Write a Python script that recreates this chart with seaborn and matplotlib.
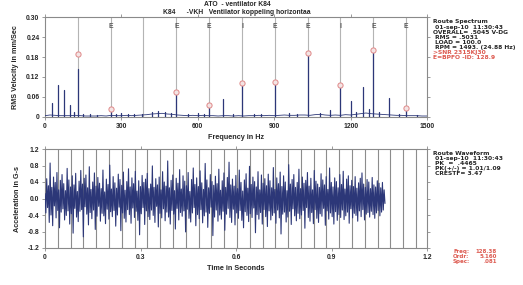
import numpy as np
import pandas as pd
import matplotlib
matplotlib.use("Agg")
import matplotlib.pyplot as plt
import seaborn as sns

# ---------------- data ----------------
# spectrum noise floor (every 20 Hz)
floor_freq = list(range(0, 1501, 20))
floor_amp = [0.004, 0.006, 0.005, 0.004, 0.004, 0.004, 0.005, 0.004, 0.003, 0.003,
             0.003, 0.004, 0.003, 0.005, 0.004, 0.004, 0.005, 0.004, 0.005, 0.006,
             0.007, 0.009, 0.010, 0.011, 0.009, 0.008, 0.006, 0.005, 0.004, 0.005,
             0.004, 0.005, 0.004, 0.004, 0.003, 0.004, 0.004, 0.003, 0.004, 0.003,
             0.004, 0.004, 0.005, 0.004, 0.005, 0.004, 0.005, 0.006, 0.005, 0.005,
             0.006, 0.006, 0.005, 0.007, 0.008, 0.006, 0.005, 0.006, 0.005, 0.007,
             0.006, 0.008, 0.010, 0.012, 0.010, 0.009, 0.008, 0.007, 0.006, 0.005,
             0.005, 0.004, 0.004, 0.004, 0.003, 0.003]
# spectral peaks
peak_freq = [27, 51, 75, 100, 114, 130, 150, 175, 205, 258, 280, 300, 325, 350, 380,
             420, 445, 470, 495, 516, 560, 600, 625, 645, 699, 740, 773, 820, 850,
             902, 960, 990, 1031, 1080, 1119, 1160, 1201, 1221, 1248, 1272, 1289,
             1310, 1351, 1390, 1418, 1460]
peak_amp = [0.043, 0.096, 0.080, 0.037, 0.015, 0.145, 0.010, 0.008, 0.007, 0.018,
            0.008, 0.012, 0.009, 0.010, 0.009, 0.015, 0.018, 0.015, 0.012, 0.074,
            0.010, 0.012, 0.009, 0.035, 0.053, 0.008, 0.105, 0.008, 0.010, 0.105,
            0.012, 0.009, 0.190, 0.012, 0.022, 0.096, 0.047, 0.015, 0.090, 0.025,
            0.200, 0.015, 0.056, 0.008, 0.028, 0.007]
# fault-frequency markers (orders of E=BPFO 128.9 Hz)
bpfo = 128.9
marker_order = [1, 2, 3, 4, 5, 6, 7, 8, 9, 10, 11]
marker_label = ["", "E", "", "E", "E", "I", "E", "E", "I", "E", "E"]
marker_amp = [0.190, 0.025, None, 0.074, 0.037, 0.102, 0.105, 0.192, 0.096, 0.200, 0.028]

spec_xticks = [0, 300, 600, 900, 1200, 1500]
spec_yticks = [0, 0.06, 0.12, 0.18, 0.24, 0.30]
spec_yticklabels = ["0", "0.06", "0.12", "0.18", "0.24", "0.30"]

# waveform samples (G-s), 0 .. 1.068 s
wave = [
 0.12, -0.35, 0.48, -0.22, 0.31, -0.58, 0.86, -0.40, 0.27, -0.66, 0.52, -0.18, 0.39, -0.47, 0.63, -0.29, 0.21, -0.71, 0.44, -0.33,
 0.58, -0.25, 0.36, -0.52, 0.19, -0.41, 0.73, -0.30, 0.45, -0.62, 0.28, -0.37, 0.55, -0.84, 0.33, -0.24, 0.61, -0.45, 0.17, -0.56,
 0.42, -0.31, 0.68, -0.27, 0.35, -0.93, 0.49, -0.20, 0.57, -0.38, 0.26, -0.64, 0.77, -0.34, 0.22, -0.49, 0.40, -0.28, 0.62, -0.75,
 0.30, -0.43, 0.51, -0.19, 0.37, -0.55, 0.24, -0.36, 0.69, -0.42, 0.16, -0.61, 0.47, -0.26, 0.34, -0.50, 0.81, -0.32, 0.23, -0.44,
 0.53, -0.29, 0.38, -0.67, 0.25, -0.40, 0.59, -0.21, 0.46, -0.78, 0.32, -0.35, 0.64, -0.48, 0.20, -0.57, 0.41, -0.27, 0.72, -0.39,
 0.28, -0.60, 0.50, -0.23, 0.36, -0.46, 0.66, -0.31, 0.18, -0.53, 0.43, -0.88, 0.29, -0.37, 0.56, -0.22, 0.39, -0.63, 0.47, -0.30,
 0.61, -0.44, 0.24, -0.51, 0.35, -0.28, 0.79, -0.41, 0.27, -0.58, 0.48, -0.19, 0.33, -0.69, 0.52, -0.36, 0.21, -0.47, 0.65, -0.25,
 0.40, -0.54, 0.30, -0.33, 0.91, -0.45, 0.26, -0.62, 0.44, -0.29, 0.57, -0.38, 0.19, -0.74, 0.49, -0.24, 0.37, -0.52, 0.70, -0.34,
 0.23, -0.43, 0.55, -0.30, 0.42, -0.81, 0.31, -0.26, 0.63, -0.48, 0.17, -0.57, 0.46, -0.35, 0.74, -0.22, 0.34, -0.66, 0.50, -0.39,
 0.29, -0.49, 0.67, -0.27, 0.38, -0.59, 0.22, -0.42, 0.85, -0.33, 0.45, -0.70, 0.26, -0.36, 0.58, -0.21, 0.41, -0.90, 0.32, -0.45,
 0.54, -0.28, 0.36, -0.55, 0.71, -0.40, 0.20, -0.50, 0.43, -0.31, 0.62, -0.77, 0.27, -0.38, 0.51, -0.24, 0.88, -0.46, 0.33, -0.58,
 0.47, -0.26, 0.30, -0.64, 0.56, -0.35, 0.24, -0.48, 0.69, -0.29, 0.39, -0.53, 0.18, -0.71, 0.45, -0.32, 0.60, -0.41, 0.25, -0.56,
 0.78, -0.37, 0.34, -0.46, 0.52, -0.23, 0.41, -0.83, 0.28, -0.39, 0.65, -0.50, 0.21, -0.34, 0.57, -0.62, 0.37, -0.27, 0.48, -0.44,
 0.31, -0.68, 0.59, -0.30, 0.43, -0.52, 0.26, -0.41, 0.75, -0.35, 0.22, -0.60, 0.50, -0.28, 0.36, -0.47, 0.64, -0.86, 0.29, -0.38,
 0.55, -0.33, 0.40, -0.57, 0.19, -0.45, 0.82, -0.31, 0.35, -0.63, 0.46, -0.25, 0.58, -0.42, 0.27, -0.54, 0.39, -0.36, 0.71, -0.49,
 0.24, -0.40, 0.52, -0.29, 0.37, -0.72, 0.44, -0.22, 0.63, -0.46, 0.30, -0.55, 0.49, -0.34, 0.21, -0.61, 0.68, -0.27, 0.42, -0.48,
 0.35, -0.58, 0.27, -0.37, 0.60, -0.43, 0.45, -0.24, 0.33, -0.65, 0.53, -0.30, 0.22, -0.50, 0.74, -0.35, 0.39, -0.44, 0.28, -0.62,
 0.50, -0.32, 0.41, -0.53, 0.26, -0.39, 0.58, -0.46, 0.34, -0.28, 0.66, -0.51, 0.23, -0.42, 0.47, -0.33, 0.55, -0.60, 0.31, -0.25,
 0.44, -0.47, 0.29, -0.36, 0.53, -0.41, 0.25, -0.55, 0.38, -0.30, 0.49, -0.44, 0.62, -0.27, 0.35, -0.52, 0.27, -0.38, 0.46, -0.34,
 0.40, -0.45, 0.24, -0.31, 0.51, -0.39, 0.33, -0.48, 0.28, -0.35, 0.43, -0.29, 0.37, -0.42, 0.26, -0.33, 0.39, -0.28, 0.21, -0.12,
]
wave_duration = 1.068
shaft_hz = 24.88
wave_xticks = [0, 0.3, 0.6, 0.9, 1.2]
wave_xticklabels = ["0", "0.3", "0.6", "0.9", "1.2"]
wave_yticks = [-1.2, -0.8, -0.4, 0.0, 0.4, 0.8, 1.2]
wave_yticklabels = ["-1.2", "-0.8", "-0.4", "0.0", "0.4", "0.8", "1.2"]

spec_info = ["Route Spectrum", " 01-sep-10  11:30:43", "OVERALL= .5045 V-DG", " RMS = .5031",
             " LOAD = 100.0", " RPM = 1493. (24.88 Hz)"]
spec_info_red = [">SNR 2315KJ30", "E=BPFO -ID: 128.9"]
wave_info = ["Route Waveform", " 01-sep-10  11:30:43", " PK  =  .4465", " PK(+/-) = 1.01/1.09", " CRESTF= 3.47"]
cursor_names = ["Freq:", "Ordr:", "Spec:"]
cursor_vals = ["128.38", "5.160", ".081"]

# ---------------- style ----------------
sns.set_theme(style="white")
plt.rcParams["font.family"] = ["Liberation Sans", "DejaVu Sans"]
plt.rcParams["font.weight"] = "bold"
FS = 4.9
W, H = 523, 285
NAVY = "#2c3778"
RED = "#dd5a50"

fig = plt.figure(figsize=(W / 100, H / 100), dpi=100)
fig.patch.set_facecolor("white")


def fx(x):
    return x / W


def fy(y):
    return 1 - y / H


ax1 = fig.add_axes([fx(45), fy(117), fx(382), 100 / H])
ax2 = fig.add_axes([fx(45), fy(248), fx(382), 99 / H])

# ---------------- spectrum ----------------
for o in marker_order:
    ax1.axvline(o * bpfo, color="#b4b4b4", lw=0.8, zorder=1)

sns.lineplot(x=floor_freq, y=floor_amp, ax=ax1, color=NAVY, lw=0.6,
             estimator=None, sort=False, zorder=3)
rows = []
for i, (f, a) in enumerate(zip(peak_freq, peak_amp)):
    rows.append({"f": f, "a": 0.0, "u": i})
    rows.append({"f": f, "a": a, "u": i})
pk = pd.DataFrame(rows)
sns.lineplot(data=pk, x="f", y="a", units="u", estimator=None, ax=ax1,
             color=NAVY, lw=0.9, sort=False, zorder=3)

mk = pd.DataFrame({"f": [o * bpfo for o, a in zip(marker_order, marker_amp) if a is not None],
                   "a": [a for a in marker_amp if a is not None]})
sns.scatterplot(data=mk, x="f", y="a", ax=ax1, s=14, facecolor="#f3e4e4",
                edgecolor="#e08888", linewidth=0.7, zorder=4)
for o, lab in zip(marker_order, marker_label):
    if lab:
        ax1.text(o * bpfo, 0.27, lab, ha="center", va="center", fontsize=FS,
                 color="#555555", zorder=5)

ax1.set_xlim(0, 1500)
ax1.set_ylim(0, 0.30)
ax1.set_xticks(spec_xticks)
ax1.set_xticklabels([str(t) for t in spec_xticks])
ax1.set_yticks(spec_yticks)
ax1.set_yticklabels(spec_yticklabels)
ax1.set_xlabel("Frequency in Hz", fontsize=FS + 0.3, labelpad=3, fontweight="bold")
ax1.set_ylabel("RMS Velocity in mm/Sec", fontsize=FS + 0.3, labelpad=5, fontweight="bold")

# ---------------- waveform ----------------
t = np.linspace(0, wave_duration, len(wave))
k = 1
while k / shaft_hz < 1.2:
    ax2.axvline(k / shaft_hz, color="#8c8c8c", lw=0.8, zorder=1)
    k += 1
sns.lineplot(x=t, y=wave, ax=ax2, color=NAVY, lw=0.8, estimator=None,
             sort=False, zorder=3)
ax2.set_xlim(0, 1.2)
ax2.set_ylim(-1.2, 1.2)
ax2.set_xticks(wave_xticks)
ax2.set_xticklabels(wave_xticklabels)
ax2.set_yticks(wave_yticks)
ax2.set_yticklabels(wave_yticklabels)
ax2.set_xlabel("Time in Seconds", fontsize=FS + 0.3, labelpad=3, fontweight="bold")
ax2.set_ylabel("Acceleration in G-s", fontsize=FS + 0.3, labelpad=5, fontweight="bold")

for ax in (ax1, ax2):
    for sp in ax.spines.values():
        sp.set_color("#8a8a8a")
        sp.set_linewidth(0.8)
    ax.tick_params(axis="both", which="both", direction="out", length=2, width=0.6,
                   color="#8a8a8a", labelsize=FS, pad=2,
                   top=True, right=True, bottom=True, left=True,
                   labeltop=False, labelright=False)
    for lb in ax.get_xticklabels() + ax.get_yticklabels():
        lb.set_fontweight("bold")
    ax.grid(False)
    ax.set_facecolor("white")

# ---------------- titles and text ----------------
fig.text(fx(237), fy(5), "ATO  - ventilator K84", ha="center", va="center", fontsize=FS)
fig.text(fx(237), fy(13), "K84      -VKH   Ventilator koppeling horizontaa",
         ha="center", va="center", fontsize=FS)

SIDE = dict(ha="left", va="top", fontsize=4.3, family=["DejaVu Sans"],
            fontweight="bold", linespacing=1.02)
fig.text(fx(433), fy(19.5), "\n".join(spec_info), **SIDE)
fig.text(fx(433), fy(19.5 + 6 * 5.1), "\n".join(spec_info_red), color=RED, **SIDE)
fig.text(fx(433), fy(151), "\n".join(wave_info), **SIDE)

CUR = dict(va="top", fontsize=4.0, family=["DejaVu Sans"], fontweight="bold",
           linespacing=1.0, color=RED)
fig.text(fx(453), fy(249), "\n".join(cursor_names), ha="left", multialignment="left", **CUR)
fig.text(fx(497), fy(249), "\n".join(cursor_vals), ha="right", multialignment="right", **CUR)

fig.savefig("out.png", dpi=100, facecolor="white")
